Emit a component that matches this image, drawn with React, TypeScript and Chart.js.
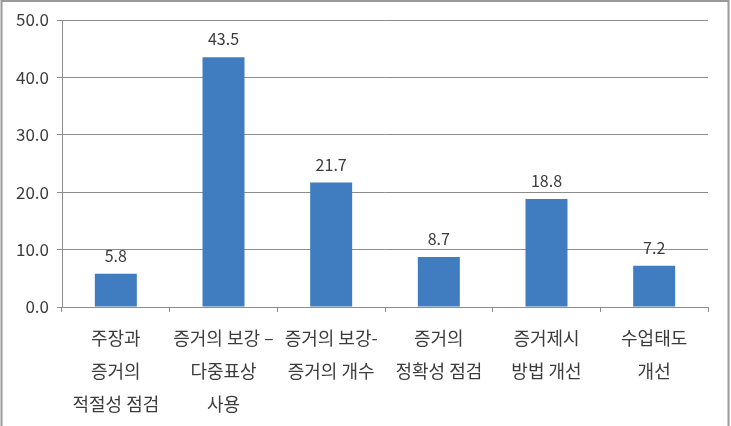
import React, { useEffect, useRef } from "react";
import { Chart, registerables } from "chart.js";

Chart.register(...registerables);

const categories: string[][] = [
  ["주장과", "증거의", "적절성 점검"],
  ["증거의 보강 –", "다중표상", "사용"],
  ["증거의 보강-", "증거의 개수"],
  ["증거의", "정확성 점검"],
  ["증거제시", "방법 개선"],
  ["수업태도", "개선"],
];
const values: number[] = [5.8, 43.5, 21.7, 8.7, 18.8, 7.2];
const yMin = 0;
const yMax = 50;
const yStep = 10;

const FONT = "'Malgun Gothic', 'Noto Sans CJK KR', 'Noto Sans', sans-serif";
const TEXT = "#3c3c3c";
const GRID = "#8c8c8c";
const BAR = "#3f7dc0";

const valueLabels = {
  id: "valueLabels",
  afterDatasetsDraw(chart: any) {
    const ctx = chart.ctx;
    const meta = chart.getDatasetMeta(0);
    ctx.save();
    ctx.font = `16px ${FONT}`;
    ctx.fillStyle = TEXT;
    ctx.textAlign = "center";
    ctx.textBaseline = "middle";
    meta.data.forEach((bar: any, i: number) => {
      ctx.fillText(values[i].toFixed(1), bar.x, bar.y - 18);
    });
    ctx.restore();
  },
};

const frame = {
  id: "frame",
  beforeDraw(chart: any) {
    const ctx = chart.ctx;
    ctx.save();
    ctx.fillStyle = "#ffffff";
    ctx.fillRect(0, 0, chart.width, chart.height);
    ctx.strokeStyle = "#9a9a9a";
    ctx.lineWidth = 2;
    ctx.beginPath();
    ctx.moveTo(1.5, chart.height + 5);
    ctx.lineTo(1.5, 1);
    ctx.lineTo(728.5, 1);
    ctx.lineTo(728.5, chart.height + 5);
    ctx.stroke();
    ctx.restore();
  },
};

export default function App() {
  const ref = useRef<HTMLCanvasElement | null>(null);
  useEffect(() => {
    if (!ref.current) return;
    const chart = new Chart(ref.current, {
      type: "bar",
      data: {
        labels: categories,
        datasets: [
          {
            data: values,
            backgroundColor: BAR,
            borderWidth: 0,
            categoryPercentage: 1,
            barPercentage: 0.39,
          },
        ],
      },
      options: {
        animation: false,
        responsive: false,
        devicePixelRatio: 1,
        layout: { padding: { left: 0, top: 20, right: 23, bottom: 0 } },
        plugins: { legend: { display: false }, tooltip: { enabled: false } },
        scales: {
          x: {
            grid: {
              drawOnChartArea: false,
              drawTicks: true,
              tickLength: 5,
              color: GRID,
              offset: true,
            },
            border: { color: GRID, width: 1 },
            ticks: {
              color: TEXT,
              font: { family: FONT, size: 18, lineHeight: "33px" as any },
              padding: 10,
              maxRotation: 0,
              minRotation: 0,
              autoSkip: false,
            },
            afterFit(scale: any) {
              scale.height = 426 - 307;
            },
          },
          y: {
            min: yMin,
            max: yMax,
            grid: { color: GRID, tickLength: 5, drawTicks: true },
            border: { color: GRID, width: 1 },
            ticks: {
              stepSize: yStep,
              color: TEXT,
              font: { family: FONT, size: 17 },
              padding: 8,
              callback: (v: any) => Number(v).toFixed(1),
            },
            afterFit(scale: any) {
              scale.width = 62;
            },
          },
        },
      },
      plugins: [frame, valueLabels],
    });
    return () => chart.destroy();
  }, []);
  return (
    <div style={{ position: "absolute", left: 0, top: 0, width: 731, height: 426, background: "#fff" }}>
      <canvas ref={ref} width={731} height={426} style={{ display: "block", width: 731, height: 426 }} />
    </div>
  );
}
